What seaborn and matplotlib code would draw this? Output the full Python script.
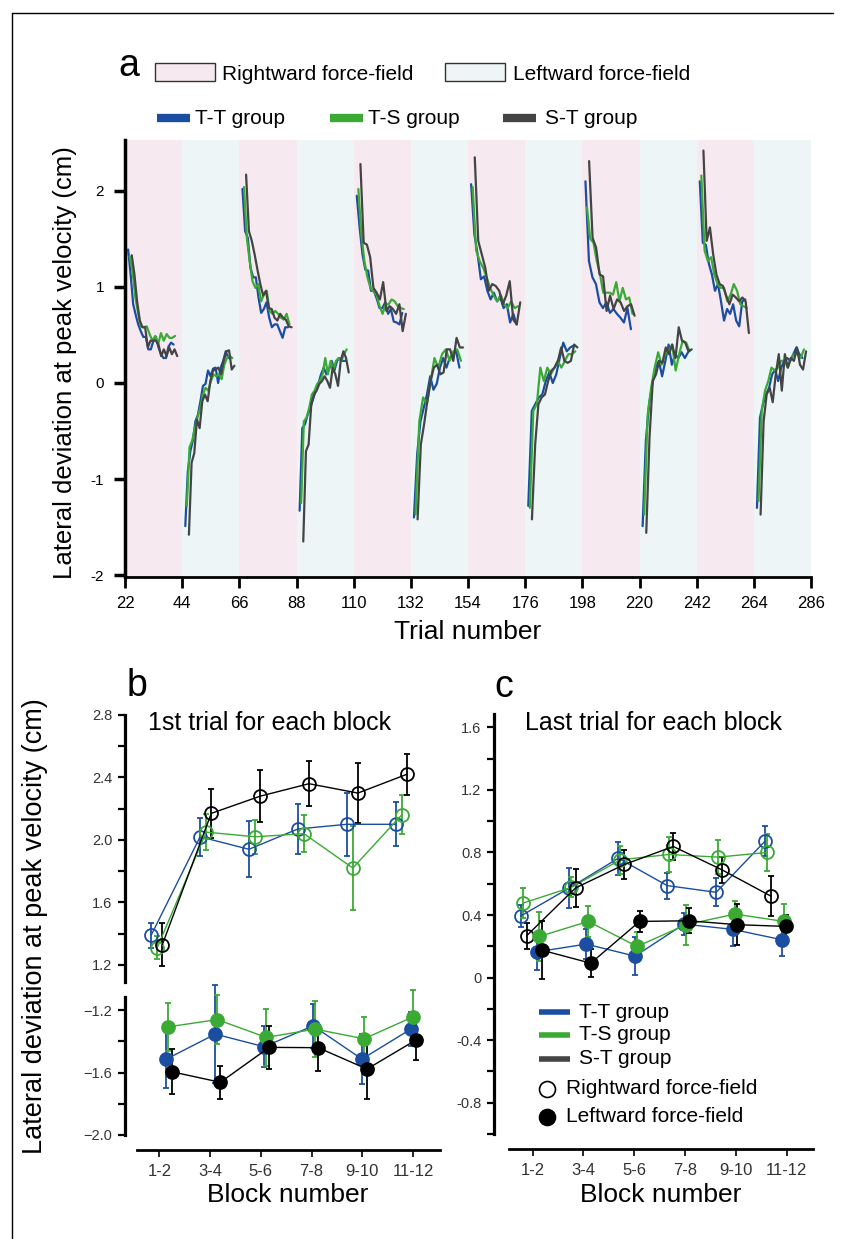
import numpy as np
import pandas as pd
import matplotlib
matplotlib.use("Agg")
import matplotlib.pyplot as plt
from matplotlib.lines import Line2D
from matplotlib.patches import Rectangle
from matplotlib import font_manager
import seaborn as sns

sns.set_style("ticks")
_names = {f.name for f in font_manager.fontManager.ttflist}
BASE = "Liberation Sans" if "Liberation Sans" in _names else "DejaVu Sans"
NARROW = "Liberation Sans Narrow" if "Liberation Sans Narrow" in _names else BASE
plt.rcParams["font.family"] = [BASE, "DejaVu Sans"]
plt.rcParams["text.color"] = "black"
plt.rcParams["axes.labelcolor"] = "black"
plt.rcParams["xtick.color"] = "black"
plt.rcParams["ytick.color"] = "black"
plt.rcParams["axes.edgecolor"] = "black"

# ---------------- data: panel a (per block, per group) ----------------
GROUPS = ["T-T group", "T-S group", "S-T group"]
BLOCK_STARTS = [22, 44, 66, 88, 110, 132, 154, 176, 198, 220, 242, 264]
BLOCK_FIELD = ["R", "L", "R", "L", "R", "L", "R", "L", "R", "L", "R", "L"]

b01_tt = [1.39, 1.13, 0.82, 0.71, 0.61, 0.54, 0.48, 0.48, 0.35, 0.35, 0.44, 0.48, 0.37, 0.30, 0.26, 0.26, 0.38, 0.42, 0.40]
b01_ts = [1.32, 1.17, 0.89, 0.72, 0.59, 0.58, 0.59, 0.51, 0.44, 0.49, 0.40, 0.52, 0.44, 0.51, 0.47, 0.47, 0.49]
b01_st = [1.33, 1.13, 0.85, 0.65, 0.58, 0.58, 0.37, 0.44, 0.44, 0.44, 0.40, 0.28, 0.35, 0.28, 0.37, 0.30, 0.35, 0.28]

b02_tt = [-1.49, -0.92, -0.71, -0.60, -0.40, -0.33, -0.19, -0.03, -0.01, 0.13, 0.07, 0.15, 0.16, 0.00, 0.16, 0.23, 0.33, 0.26, 0.26]
b02_ts = [-1.28, -0.67, -0.60, -0.47, -0.36, -0.26, -0.12, -0.05, -0.08, 0.02, 0.09, 0.07, 0.09, 0.04, 0.19, 0.26, 0.28, 0.26]
b02_st = [-1.58, -0.83, -0.73, -0.38, -0.47, -0.19, -0.12, -0.19, 0.02, 0.13, 0.14, 0.16, 0.09, 0.23, 0.33, 0.34, 0.14, 0.18]

b03_tt = [2.02, 1.58, 1.51, 1.20, 1.10, 1.10, 0.89, 0.73, 0.77, 0.84, 0.68, 0.58, 0.61, 0.61, 0.54, 0.47, 0.58, 0.58]
b03_ts = [2.04, 1.51, 1.27, 1.06, 0.99, 1.03, 0.85, 0.92, 0.96, 0.75, 0.72, 0.75, 0.72, 0.68, 0.66, 0.72, 0.61]
b03_st = [2.17, 1.58, 1.48, 1.34, 1.18, 1.03, 0.91, 0.96, 0.78, 0.77, 0.68, 0.65, 0.72, 0.68, 0.66, 0.59, 0.58]

b04_tt = [-1.33, -0.47, -0.43, -0.33, -0.26, -0.17, -0.08, -0.01, 0.09, 0.16, 0.09, 0.14, 0.23, 0.13, 0.23, 0.26, 0.23, 0.23]
b04_ts = [-1.25, -0.40, -0.36, -0.26, -0.12, -0.08, -0.01, 0.02, 0.09, 0.26, 0.09, 0.23, 0.13, 0.23, 0.26, 0.23, 0.30, 0.35]
b04_st = [-1.65, -0.71, -0.64, -0.22, -0.12, -0.08, -0.01, 0.02, 0.07, 0.02, -0.05, 0.16, 0.09, -0.03, 0.23, 0.33, 0.26, 0.11]

b05_tt = [1.95, 1.62, 1.34, 1.18, 1.17, 0.96, 0.96, 0.88, 0.78, 0.78, 0.84, 0.72, 0.77, 0.64, 0.63, 0.61, 0.73]
b05_ts = [2.02, 1.55, 1.27, 1.10, 0.99, 0.95, 0.92, 0.80, 0.72, 0.82, 0.82, 0.87, 0.85, 0.80, 0.78, 0.77]
b05_st = [2.28, 1.46, 1.44, 1.31, 0.99, 0.94, 0.87, 1.05, 0.75, 0.80, 0.77, 0.72, 0.82, 0.54, 0.72]

b06_tt = [-1.40, -0.74, -0.40, -0.26, -0.12, 0.07, -0.07, -0.01, 0.16, 0.26, 0.16, 0.26, 0.30, 0.33, 0.16]
b06_ts = [-1.37, -0.40, -0.15, -0.22, 0.02, 0.26, 0.16, 0.30, 0.35, 0.23, 0.33, 0.35, 0.23]
b06_st = [-1.42, -0.64, -0.43, -0.19, 0.02, 0.16, 0.19, 0.09, 0.11, 0.35, 0.35, 0.23, 0.47, 0.37, 0.37]

b07_tt = [2.07, 1.55, 1.34, 1.08, 1.11, 0.96, 0.87, 0.94, 0.85, 0.89, 0.78, 0.82, 0.63, 0.72, 0.61]
b07_ts = [2.04, 1.38, 1.27, 1.20, 1.10, 0.99, 0.91, 0.85, 0.92, 0.82, 0.78, 0.85, 0.78, 0.80]
b07_st = [2.35, 1.48, 1.34, 1.20, 0.96, 1.03, 1.01, 0.96, 0.82, 0.91, 1.06, 0.66, 0.61, 0.84]

b08_tt = [-1.28, -0.29, -0.22, -0.15, -0.12, 0.02, 0.11, 0.00, 0.09, 0.26, 0.42, 0.33, 0.37, 0.39]
b08_ts = [-1.30, -0.29, -0.22, 0.16, 0.02, 0.16, 0.09, 0.16, 0.23, 0.16, 0.23, 0.30, 0.30, 0.33]
b08_st = [-1.42, -0.64, -0.22, -0.15, -0.12, 0.02, 0.13, 0.16, 0.23, 0.37, 0.23, 0.21, 0.23, 0.40, 0.37]

b09_tt = [2.10, 1.27, 1.10, 1.03, 0.84, 0.78, 0.84, 0.73, 0.77, 0.72, 0.68, 0.63, 0.78, 0.56]
b09_ts = [1.83, 1.50, 1.46, 1.27, 1.13, 0.94, 0.94, 0.94, 0.92, 1.05, 0.85, 0.99, 0.87, 0.89, 0.72]
b09_st = [2.31, 1.51, 1.41, 1.13, 1.11, 0.75, 0.91, 0.77, 0.87, 0.84, 0.75, 0.80, 0.82, 0.70]

b10_tt = [-1.49, -0.60, -0.22, -0.01, 0.16, 0.23, 0.07, 0.23, 0.40, 0.19, 0.30, 0.26, 0.32, 0.26, 0.32]
b10_ts = [-1.37, -0.33, -0.05, 0.16, 0.32, 0.19, 0.30, 0.33, 0.40, 0.13, 0.30, 0.44, 0.42, 0.33]
b10_st = [-1.56, -0.57, 0.02, 0.09, 0.23, 0.21, 0.37, 0.30, 0.40, 0.26, 0.58, 0.44, 0.42, 0.33, 0.35]

b11_tt = [2.10, 1.46, 1.44, 1.24, 1.13, 0.96, 1.03, 0.85, 0.65, 0.77, 0.72, 0.82, 0.65, 0.59, 0.85, 0.87]
b11_ts = [2.16, 1.38, 1.27, 1.31, 1.13, 1.03, 0.99, 0.99, 0.85, 0.92, 1.03, 0.96, 0.82, 0.80, 0.78]
b11_st = [2.42, 1.48, 1.62, 1.34, 1.13, 1.03, 1.01, 0.91, 0.82, 0.92, 0.89, 0.85, 0.89, 0.85, 0.52]

b12_tt = [-1.30, -0.36, -0.22, -0.12, -0.05, 0.09, 0.14, 0.02, 0.16, 0.23, 0.26, 0.23, 0.30, 0.37, 0.30, 0.26]
b12_ts = [-1.23, -0.29, -0.08, 0.02, 0.16, 0.13, 0.16, 0.23, 0.23, 0.16, 0.26, 0.30, 0.30, 0.26, 0.35]
b12_st = [-1.37, -0.40, -0.12, -0.05, -0.20, 0.09, 0.30, -0.08, 0.30, 0.16, 0.26, 0.23, 0.37, 0.19, 0.14, 0.33]

BLOCKS_TT = [b01_tt, b02_tt, b03_tt, b04_tt, b05_tt, b06_tt, b07_tt, b08_tt, b09_tt, b10_tt, b11_tt, b12_tt]
BLOCKS_TS = [b01_ts, b02_ts, b03_ts, b04_ts, b05_ts, b06_ts, b07_ts, b08_ts, b09_ts, b10_ts, b11_ts, b12_ts]
BLOCKS_ST = [b01_st, b02_st, b03_st, b04_st, b05_st, b06_st, b07_st, b08_st, b09_st, b10_st, b11_st, b12_st]

# ---------------- data: panels b and c ----------------
BLOCK_PAIRS = ["1-2", "3-4", "5-6", "7-8", "9-10", "11-12"]

b_tt_right = [1.39, 2.02, 1.94, 2.07, 2.10, 2.10]
b_tt_right_err = [0.08, 0.123, 0.18, 0.163, 0.203, 0.14]
b_ts_right = [1.31, 2.05, 2.02, 2.04, 1.82, 2.16]
b_ts_right_err = [0.074, 0.113, 0.11, 0.12, 0.266, 0.125]
b_st_right = [1.33, 2.17, 2.28, 2.36, 2.30, 2.42]
b_st_right_err = [0.136, 0.155, 0.165, 0.146, 0.192, 0.133]
b_tt_left = [-1.513, -1.353, -1.434, -1.30, -1.513, -1.321]
b_tt_left_err = [0.183, 0.314, 0.13, 0.14, 0.16, 0.108]
b_ts_left = [-1.306, -1.26, -1.374, -1.321, -1.383, -1.243]
b_ts_left_err = [0.153, 0.155, 0.185, 0.178, 0.14, 0.175]
b_st_left = [-1.594, -1.662, -1.438, -1.44, -1.577, -1.391]
b_st_left_err = [0.145, 0.104, 0.138, 0.147, 0.19, 0.13]

c_tt_right = [0.393, 0.573, 0.763, 0.588, 0.545, 0.872]
c_tt_right_err = [0.068, 0.128, 0.105, 0.083, 0.09, 0.094]
c_ts_right = [0.475, 0.577, 0.753, 0.787, 0.77, 0.80]
c_ts_right_err = [0.096, 0.064, 0.088, 0.11, 0.107, 0.118]
c_st_right = [0.267, 0.573, 0.723, 0.838, 0.688, 0.52]
c_st_right_err = [0.085, 0.12, 0.094, 0.088, 0.083, 0.128]
c_tt_left = [0.165, 0.214, 0.137, 0.342, 0.308, 0.242]
c_tt_left_err = [0.118, 0.098, 0.12, 0.068, 0.105, 0.107]
c_ts_left = [0.263, 0.359, 0.199, 0.338, 0.406, 0.359]
c_ts_left_err = [0.158, 0.10, 0.09, 0.128, 0.085, 0.11]
c_st_left = [0.175, 0.092, 0.359, 0.363, 0.338, 0.327]
c_st_left_err = [0.186, 0.09, 0.066, 0.08, 0.13, 0.075]

A_YTICKS = [-2, -1, 0, 1, 2]
A_YLABELS = ["-2", "-1", "0", "1", "2"]
A_XTICKS = [22, 44, 66, 88, 110, 132, 154, 176, 198, 220, 242, 264, 286]
BU_TICKS = [1.2, 1.6, 2.0, 2.4, 2.8]
BU_LABELS = ["1.2", "1.6", "2.0", "2.4", "2.8"]
BL_TICKS = [-2.0, -1.6, -1.2]
BL_LABELS = ["\u22122.0", "\u22121.6", "\u22121.2"]
C_TICKS = [-0.8, -0.4, 0.0, 0.4, 0.8, 1.2, 1.6]
C_LABELS = ["-0.8", "-0.4", "0", "0.4", "0.8", "1.2", "1.6"]

# ---------------- style ----------------
BLUE = "#1B4EA0"
GREEN = "#3AAA35"
DARK = "#444444"
BLACK = "#000000"
PINK = "#F7E9F0"
LBLUE = "#EDF5F7"
PAL_A = {"T-T group": BLUE, "T-S group": GREEN, "S-T group": DARK}

W, H = 848, 1239
PX = 72.0 / 100.0  # points per pixel
fig = plt.figure(figsize=(W / 100, H / 100), dpi=100)


def ax_px(x0, y0, x1, y1):
    return fig.add_axes([x0 / W, 1 - y1 / H, (x1 - x0) / W, (y1 - y0) / H])


def ftext(x, y, s, **kw):
    return fig.text(x / W, 1 - y / H, s, **kw)


# frame
fig.add_artist(Line2D([12 / W, 12 / W], [0, 1 - 13 / H], transform=fig.transFigure, color="k", lw=1.0))
fig.add_artist(Line2D([12 / W, 833 / W], [1 - 13 / H, 1 - 13 / H], transform=fig.transFigure, color="k", lw=1.0))

# ---------------- panel a ----------------
rows = []
offsets = {"T-T group": 1.2, "T-S group": 1.8, "S-T group": 2.6}
for bi, b0 in enumerate(BLOCK_STARTS):
    for g, blocks in zip(GROUPS, [BLOCKS_TT, BLOCKS_TS, BLOCKS_ST]):
        vals = blocks[bi]
        xs = np.linspace(b0 + offsets[g], b0 + offsets[g] + 17.5, len(vals))
        for x, v in zip(xs, vals):
            rows.append({"trial": x, "value": v, "group": g, "block": bi})
dfa = pd.DataFrame(rows)

axA = ax_px(125, 140, 811, 577)
for b0, fld in zip(BLOCK_STARTS, BLOCK_FIELD):
    axA.axvspan(b0, b0 + 22, color=PINK if fld == "R" else LBLUE, lw=0, zorder=0)
sns.lineplot(data=dfa, x="trial", y="value", hue="group", units="block", estimator=None,
             palette=PAL_A, hue_order=GROUPS, legend=False, lw=1.6, sort=False, ax=axA)
axA.set_xlim(22, 286)
axA.set_ylim(-2.02, 2.53)
axA.set_xlabel("")
axA.set_ylabel("")
for s in ["top", "right"]:
    axA.spines[s].set_visible(False)
axA.spines["left"].set_linewidth(2.5)
axA.spines["bottom"].set_linewidth(2.0)
axA.set_yticks(A_YTICKS)
axA.set_yticklabels(A_YLABELS, fontsize=11)
axA.set_xticks(A_XTICKS)
axA.set_xticklabels([str(t) for t in A_XTICKS], fontsize=12, family=NARROW)
axA.tick_params(axis="y", direction="out", length=8, width=2.5, pad=7)
axA.tick_params(axis="x", direction="out", length=8, width=2.0, pad=6)

ftext(118, 76, "a", fontsize=27, ha="left", va="baseline")
ftext(65, 363, "Lateral deviation at peak velocity (cm)", fontsize=18.5, rotation=90, ha="center", va="center")
ftext(468, 632, "Trial number", fontsize=19, ha="center", va="center")

# legend rows (panel a)
fig.add_artist(Rectangle((155 / W, 1 - 81 / H), 60 / W, 18 / H, transform=fig.transFigure,
                         fc=PINK, ec="#333333", lw=1.0))
ftext(222, 74, "Rightward force-field", fontsize=15, ha="left", va="center")
fig.add_artist(Rectangle((445 / W, 1 - 81 / H), 60 / W, 18 / H, transform=fig.transFigure,
                         fc=LBLUE, ec="#333333", lw=1.0))
ftext(513, 74, "Leftward force-field", fontsize=15, ha="left", va="center")
for (x0, x1, tx), g in zip([(157, 190, 195), (330, 363, 368), (503, 536, 545)], GROUPS):
    fig.add_artist(Line2D([x0 / W, x1 / W], [1 - 118 / H] * 2, transform=fig.transFigure,
                          color=PAL_A[g], lw=6, solid_capstyle="butt"))
    ftext(tx, 118, g, fontsize=15, ha="left", va="center")

# ---------------- panels b, c helpers ----------------
SPACING = 0.963
idx = np.arange(len(BLOCK_PAIRS))


def series(ax, vals, errs, color, off, filled):
    xs = idx * SPACING + off
    ax.errorbar(xs, vals, yerr=errs, fmt="-o", color=color, lw=1.0, ms=9.3,
                mfc=color if filled else "none", mec=color, mew=1.3,
                elinewidth=1.3, capsize=2.2, capthick=1.3, clip_on=False, zorder=3)


def style_left(ax, ticks, labels, minor, out_px):
    ax.spines["left"].set_position(("outward", out_px * PX))
    ax.spines["left"].set_linewidth(2.3)
    ax.set_yticks(ticks)
    ax.set_yticklabels(labels, fontsize=10.5, color="#333333")
    ax.set_yticks(minor, minor=True)
    ax.tick_params(axis="y", which="both", direction="out", length=5, width=1.6, pad=4)
    for s in ["top", "right"]:
        ax.spines[s].set_visible(False)
    ax.set_facecolor("none")


def style_bottom(ax, out_px):
    ax.spines["bottom"].set_position(("outward", out_px * PX))
    ax.spines["bottom"].set_linewidth(2.0)
    ax.set_xticks(idx)
    ax.set_xticklabels(BLOCK_PAIRS, fontsize=12, color="#333333", family=NARROW)
    ax.tick_params(axis="x", direction="out", length=5, width=1.2, pad=5)


# ---------------- panel b ----------------
axBu = ax_px(137, 715, 440, 982)
axBl = ax_px(137, 997, 440, 1135)
for ax in (axBu, axBl):
    ax.set_xlim(-0.44, 5.53)
axBu.set_ylim(1.09, 2.8)
axBl.set_ylim(-2.0, -1.115)

series(axBu, b_tt_right, b_tt_right_err, BLUE, -0.16, False)
series(axBu, b_ts_right, b_ts_right_err, GREEN, -0.04, False)
series(axBu, b_st_right, b_st_right_err, BLACK, 0.06, False)
series(axBl, b_tt_left, b_tt_left_err, BLUE, 0.14, True)
series(axBl, b_ts_left, b_ts_left_err, GREEN, 0.18, True)
series(axBl, b_st_left, b_st_left_err, BLACK, 0.24, True)

style_left(axBu, BU_TICKS, BU_LABELS, [1.4, 1.8, 2.2, 2.6], 12)
axBu.spines["bottom"].set_visible(False)
axBu.set_xticks([])
style_left(axBl, BL_TICKS, BL_LABELS, [-1.8, -1.4], 12)
style_bottom(axBl, 15)

ftext(127, 696, "b", fontsize=27, ha="left", va="baseline")
ftext(148, 723, "1st trial for each block", fontsize=18, ha="left", va="center")
ftext(35, 926, "Lateral deviation at peak velocity (cm)", fontsize=19.5, rotation=90, ha="center", va="center")
ftext(288, 1195, "Block number", fontsize=19, ha="center", va="center")

# ---------------- panel c ----------------
axC = ax_px(509, 714, 813, 1134)
axC.set_xlim(-0.467, 5.52)
axC.set_ylim(-1.0, 1.685)
series(axC, c_tt_right, c_tt_right_err, BLUE, -0.24, False)
series(axC, c_ts_right, c_ts_right_err, GREEN, -0.20, False)
series(axC, c_st_right, c_st_right_err, BLACK, -0.12, False)
series(axC, c_tt_left, c_tt_left_err, BLUE, 0.09, True)
series(axC, c_ts_left, c_ts_left_err, GREEN, 0.13, True)
series(axC, c_st_left, c_st_left_err, BLACK, 0.18, True)
style_left(axC, C_TICKS, C_LABELS, [-1.0, -0.6, -0.2, 0.2, 0.6, 1.0, 1.4], 15)
style_bottom(axC, 15)

ftext(494, 697, "c", fontsize=27, ha="left", va="baseline")
ftext(525, 723, "Last trial for each block", fontsize=18, ha="left", va="center")
ftext(661, 1195, "Block number", fontsize=19, ha="center", va="center")

# legend (panel c)
for yy, g in zip([1012, 1035, 1059], GROUPS):
    fig.add_artist(Line2D([539 / W, 570 / W], [1 - yy / H] * 2, transform=fig.transFigure,
                          color=PAL_A[g], lw=4, solid_capstyle="butt"))
    ftext(579, yy, g, fontsize=15, ha="left", va="center")
fig.add_artist(Line2D([547 / W], [1 - 1089 / H], transform=fig.transFigure, marker="o", ms=11.5,
                      mfc="white", mec="black", mew=1.2, lw=0))
ftext(566, 1089, "Rightward force-field", fontsize=15, ha="left", va="center")
fig.add_artist(Line2D([547 / W], [1 - 1117 / H], transform=fig.transFigure, marker="o", ms=11.5,
                      mfc="black", mec="black", mew=1.2, lw=0))
ftext(566, 1117, "Leftward force-field", fontsize=15, ha="left", va="center")

fig.savefig("out.png", dpi=100)
